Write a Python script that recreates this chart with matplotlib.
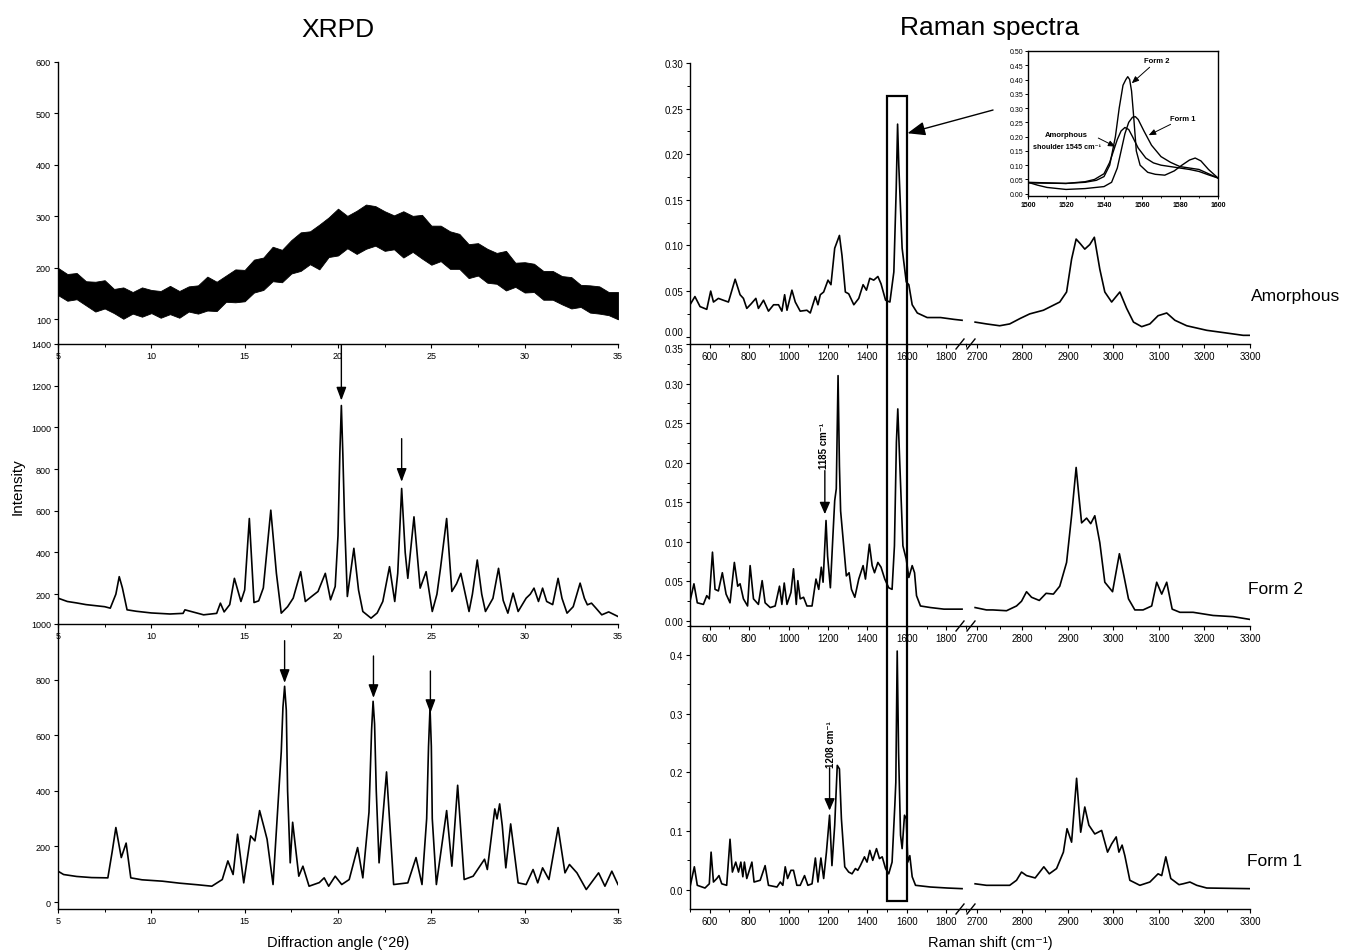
import numpy as np
import matplotlib
matplotlib.use('Agg')
import matplotlib.pyplot as plt
from matplotlib.patches import Rectangle
from matplotlib.lines import Line2D
from matplotlib.ticker import MultipleLocator, FormatStrFormatter

plt.rcParams['font.family'] = ['Liberation Sans', 'DejaVu Sans']

# ---------------- XRPD data ----------------
# Amorphous: noisy band, given as upper / lower envelope
xrpd_amor_x = np.linspace(5, 35, 61)
xrpd_amor_upper = [200, 188, 190, 174, 173, 176, 159, 162, 153, 162, 157, 155, 165, 155, 164, 166, 183, 173, 185, 197,
                   196, 216, 220, 241, 235, 254, 269, 271, 284, 298, 315, 301, 311, 323, 320, 310, 302, 310, 301, 303,
                   282, 282, 271, 266, 246, 248, 237, 229, 233, 210, 211, 208, 194, 194, 184, 182, 167, 166, 164, 153, 153]
xrpd_amor_lower = [147, 136, 139, 127, 115, 121, 112, 101, 111, 105, 112, 103, 110, 103, 115, 111, 117, 116, 134, 133,
                   135, 152, 157, 174, 172, 189, 194, 207, 197, 221, 224, 238, 227, 237, 243, 233, 236, 220, 231, 218,
                   206, 213, 198, 198, 180, 185, 171, 169, 156, 163, 152, 153, 138, 138, 129, 121, 124, 113, 111, 108, 100]

# Form 2
xrpd_f2_x = [5.0, 5.5, 6.0, 6.5, 7.0, 7.5, 7.8, 8.1, 8.28, 8.45, 8.7, 9.2, 10.0, 11.0, 11.7, 11.8, 12.8, 13.5, 13.7, 13.9,
             14.2, 14.45, 14.8, 15.0, 15.25, 15.5, 15.75, 16.0, 16.4, 16.7, 16.96, 17.3, 17.6, 18.0, 18.25, 18.6, 18.93,
             19.32, 19.6, 19.85, 20.0, 20.1, 20.18, 20.26, 20.35, 20.5, 20.85, 21.1, 21.33, 21.77, 22.1, 22.4, 22.76,
             23.04, 23.2, 23.41, 23.6, 23.74, 24.07, 24.4, 24.72, 25.05, 25.3, 25.49, 25.82, 26.1, 26.35, 26.58, 27.02,
             27.2, 27.46, 27.7, 27.9, 28.3, 28.6, 28.85, 29.1, 29.38, 29.65, 30.08, 30.3, 30.5, 30.74, 30.96, 31.18,
             31.5, 31.79, 32.0, 32.27, 32.6, 32.97, 33.2, 33.36, 33.58, 33.8, 34.13, 34.5, 35.0]
xrpd_f2_y = [181, 165, 158, 150, 145, 140, 133, 200, 284, 230, 125, 118, 110, 105, 108, 125, 101, 108, 157, 115,
             150, 276, 165, 220, 563, 160, 168, 230, 603, 300, 109, 140, 181, 308, 165, 190, 213,
             300, 173, 237, 480, 880, 1105, 870, 560, 189, 420, 220, 117, 85, 110, 165, 332,
             165, 300, 707, 400, 276, 571, 229, 308, 117, 200, 324, 563, 213, 250, 300, 117,
             200, 364, 200, 117, 180, 324, 170, 109, 205, 117, 181, 200, 229, 165, 229, 165,
             150, 276, 180, 109, 140, 253, 180, 149, 157, 135, 101, 115, 93]

# Form 1
xrpd_f1_x = [5.0, 5.3, 6.0, 6.8, 7.67, 7.9, 8.1, 8.39, 8.65, 8.9, 9.5, 10.6, 11.5, 12.5, 13.24, 13.8, 14.1, 14.38, 14.62,
             14.95, 15.32, 15.55, 15.8, 16.04, 16.2, 16.52, 16.96, 17.05, 17.14, 17.23, 17.3, 17.44, 17.57, 17.9, 18.12,
             18.45, 19.0, 19.26, 19.5, 19.85, 20.2, 20.6, 21.05, 21.33, 21.66, 21.8, 21.88, 21.96, 22.05, 22.2, 22.6,
             22.98, 23.74, 24.18, 24.5, 24.75, 24.85, 24.93, 25.0, 25.05, 25.27, 25.82, 26.1, 26.41, 26.76, 27.24, 27.85,
             28.0, 28.4, 28.52, 28.66, 28.8, 28.99, 29.25, 29.65, 30.08, 30.45, 30.7, 30.96, 31.3, 31.79, 32.16, 32.4,
             32.8, 33.3, 33.96, 34.3, 34.67, 35.0]
xrpd_f1_y = [111, 99, 92, 88, 87, 180, 268, 160, 212, 87, 80, 75, 68, 62, 57, 81, 148, 99, 244,
             69, 238, 220, 329, 268, 226, 63, 540, 700, 776, 690, 400, 141, 287, 93, 129,
             57, 70, 87, 57, 93, 63, 81, 196, 87, 323, 620, 722, 640, 400, 141, 468,
             63, 69, 160, 63, 300, 560, 698, 560, 300, 63, 329, 129, 420, 81, 93, 154,
             117, 335, 299, 353, 275, 123, 281, 69, 63, 117, 69, 123, 81, 268, 105, 135,
             105, 45, 105, 57, 111, 63]

# ---------------- Raman data ----------------
ram_amor_x1 = [500, 525, 551, 585, 605, 619, 644, 669, 695, 729, 754, 771, 788, 810, 834, 847, 873, 898, 924, 949, 966,
               980, 992, 1017, 1034, 1059, 1093, 1110, 1136, 1149, 1161, 1178, 1200, 1215, 1234, 1258, 1271, 1288,
               1305, 1331, 1356, 1378, 1395, 1412, 1432, 1453, 1469, 1492, 1514, 1534, 1546, 1553, 1559, 1576, 1597,
               1610, 1627, 1653, 1703, 1771, 1839, 1880]
ram_amor_y1 = [0.035, 0.044, 0.033, 0.030, 0.050, 0.038, 0.042, 0.040, 0.038, 0.063, 0.046, 0.042, 0.031, 0.036, 0.042,
               0.031, 0.040, 0.028, 0.035, 0.035, 0.028, 0.046, 0.029, 0.051, 0.038, 0.028, 0.029, 0.026, 0.044, 0.035,
               0.046, 0.049, 0.062, 0.057, 0.097, 0.111, 0.089, 0.049, 0.047, 0.035, 0.042, 0.057, 0.051, 0.064, 0.062,
               0.066, 0.058, 0.040, 0.038, 0.071, 0.162, 0.233, 0.188, 0.097, 0.060, 0.057, 0.035, 0.026, 0.021, 0.021,
               0.019, 0.018]
ram_amor_x2 = [2696, 2721, 2750, 2772, 2795, 2816, 2846, 2882, 2897, 2908, 2918, 2927, 2937, 2948, 2958, 2970, 2981, 2996,
               3014, 3029, 3044, 3062, 3080, 3098, 3117, 3135, 3161, 3205, 3249, 3285, 3300]
ram_amor_y2 = [0.016, 0.014, 0.012, 0.014, 0.020, 0.025, 0.029, 0.038, 0.049, 0.085, 0.107, 0.102, 0.096, 0.101, 0.109,
               0.074, 0.049, 0.038, 0.049, 0.031, 0.016, 0.011, 0.014, 0.023, 0.026, 0.018, 0.012, 0.007, 0.004,
               0.0015, 0.0015]

ram_f2_x1 = [500, 520, 537, 568, 585, 598, 614, 627, 644, 664, 683, 703, 725, 742, 754, 771, 792, 805, 822, 847, 866,
             881, 907, 932, 954, 966, 978, 992, 1012, 1025, 1039, 1047, 1059, 1076, 1093, 1119, 1139, 1153, 1166, 1175,
             1190, 1198, 1212, 1225, 1234, 1242, 1251, 1258, 1264, 1275, 1293, 1307, 1319, 1336, 1356, 1378, 1390,
             1410, 1424, 1436, 1453, 1469, 1488, 1508, 1525, 1537, 1547, 1554, 1564, 1580, 1597, 1610, 1627, 1639,
             1649, 1669, 1720, 1788, 1880]
ram_f2_y1 = [0.025, 0.047, 0.023, 0.021, 0.032, 0.028, 0.087, 0.040, 0.038, 0.061, 0.034, 0.023, 0.074, 0.044, 0.047,
             0.028, 0.019, 0.070, 0.028, 0.021, 0.051, 0.023, 0.017, 0.019, 0.044, 0.021, 0.048, 0.021, 0.036, 0.066,
             0.021, 0.051, 0.028, 0.030, 0.019, 0.019, 0.053, 0.040, 0.068, 0.049, 0.127, 0.082, 0.042, 0.108, 0.152,
             0.167, 0.310, 0.196, 0.139, 0.108, 0.057, 0.061, 0.040, 0.030, 0.053, 0.070, 0.053, 0.097, 0.070, 0.061,
             0.074, 0.068, 0.053, 0.042, 0.040, 0.095, 0.226, 0.268, 0.200, 0.095, 0.078, 0.055, 0.070, 0.061, 0.032,
             0.019, 0.017, 0.015, 0.015]
ram_f2_x2 = [2696, 2721, 2735, 2765, 2787, 2798, 2809, 2820, 2837, 2852, 2868, 2882, 2897, 2908, 2918, 2924, 2930, 2941,
             2950, 2959, 2970, 2981, 2998, 3013, 3023, 3033, 3047, 3065, 3084, 3095, 3106, 3117, 3129, 3146, 3175,
             3219, 3263, 3300]
ram_f2_y2 = [0.017, 0.014, 0.014, 0.013, 0.019, 0.025, 0.037, 0.030, 0.026, 0.035, 0.034, 0.044, 0.074, 0.133, 0.194,
             0.158, 0.124, 0.130, 0.123, 0.133, 0.099, 0.049, 0.037, 0.085, 0.057, 0.028, 0.014, 0.014, 0.019, 0.049,
             0.034, 0.049, 0.015, 0.011, 0.011, 0.007, 0.0055, 0.002]

ram_f1_x1 = [500, 522, 537, 576, 598, 607, 619, 636, 647, 661, 686, 703, 715, 732, 746, 758, 768, 776, 788, 814, 825,
             856, 881, 898, 941, 958, 971, 983, 995, 1012, 1025, 1042, 1059, 1081, 1098, 1119, 1136, 1149, 1164, 1178,
             1192, 1208, 1220, 1234, 1247, 1258, 1268, 1285, 1305, 1322, 1339, 1351, 1364, 1385, 1398, 1412, 1427,
             1446, 1461, 1475, 1492, 1508, 1525, 1539, 1544, 1551, 1558, 1568, 1576, 1588, 1597, 1605, 1615, 1627,
             1644, 1720, 1805, 1880]
ram_f1_y1 = [0.0045, 0.039, 0.0074, 0.0028, 0.010, 0.064, 0.013, 0.019, 0.024, 0.010, 0.0074, 0.086, 0.030, 0.047,
             0.030, 0.047, 0.022, 0.047, 0.019, 0.047, 0.013, 0.016, 0.041, 0.0074, 0.0045, 0.013, 0.0074, 0.039,
             0.019, 0.033, 0.033, 0.0074, 0.0074, 0.024, 0.0074, 0.010, 0.054, 0.013, 0.054, 0.019, 0.064, 0.127,
             0.041, 0.110, 0.212, 0.206, 0.121, 0.039, 0.030, 0.027, 0.036, 0.033, 0.041, 0.056, 0.047, 0.067, 0.050,
             0.070, 0.053, 0.056, 0.036, 0.027, 0.047, 0.144, 0.183, 0.407, 0.234, 0.093, 0.070, 0.127, 0.121, 0.047,
             0.058, 0.022, 0.0074, 0.0045, 0.0028, 0.0017]
ram_f1_x2 = [2696, 2721, 2772, 2787, 2798, 2809, 2828, 2847, 2859, 2875, 2890, 2898, 2908, 2919, 2928, 2937, 2946, 2959,
             2974, 2987, 2996, 3006, 3012, 3019, 3025, 3036, 3058, 3080, 3098, 3106, 3115, 3126, 3144, 3153, 3168,
             3183, 3205, 3300]
ram_f1_y2 = [0.010, 0.0074, 0.0074, 0.016, 0.030, 0.024, 0.020, 0.039, 0.027, 0.036, 0.064, 0.104, 0.081, 0.190, 0.098,
             0.141, 0.110, 0.095, 0.101, 0.064, 0.078, 0.090, 0.064, 0.076, 0.058, 0.016, 0.0074, 0.013, 0.027, 0.024,
             0.056, 0.019, 0.0085, 0.010, 0.013, 0.0074, 0.0028, 0.0017]

# Inset (1500-1600 cm-1)
ins_a_x = [1500, 1510, 1520, 1530, 1536, 1540, 1543, 1546, 1548, 1550, 1551.5, 1552.5, 1553.5, 1554.5, 1555.5, 1557,
           1559, 1563, 1567, 1572, 1577, 1581, 1585, 1588, 1591, 1595, 1600]
ins_a_y = [0.040, 0.038, 0.036, 0.040, 0.047, 0.060, 0.10, 0.20, 0.30, 0.38, 0.40, 0.41, 0.40, 0.36, 0.28, 0.15,
           0.10, 0.075, 0.068, 0.065, 0.08, 0.10, 0.118, 0.125, 0.115, 0.085, 0.055]
ins_b_x = [1500, 1505, 1510, 1520, 1530, 1540, 1544, 1547, 1549, 1551, 1553, 1555, 1556.5, 1558, 1561, 1565, 1570,
           1575, 1580, 1585, 1590, 1595, 1600]
ins_b_y = [0.040, 0.030, 0.022, 0.015, 0.018, 0.025, 0.040, 0.09, 0.15, 0.21, 0.25, 0.268, 0.27, 0.26, 0.22, 0.17,
           0.13, 0.11, 0.095, 0.09, 0.085, 0.07, 0.055]
ins_c_x = [1500, 1510, 1520, 1530, 1535, 1540, 1543, 1545, 1547, 1549, 1551, 1553, 1555, 1558, 1562, 1566, 1570, 1575,
           1580, 1585, 1590, 1595, 1600]
ins_c_y = [0.038, 0.037, 0.036, 0.042, 0.050, 0.070, 0.11, 0.15, 0.19, 0.22, 0.232, 0.225, 0.20, 0.16, 0.125, 0.108,
           0.10, 0.095, 0.09, 0.085, 0.078, 0.066, 0.055]

# ---------------- figure ----------------
W, H = 1346, 953
fig = plt.figure(figsize=(W / 100, H / 100), dpi=100)


def box(x0, y0, x1, y1):
    return [x0 / W, 1 - y1 / H, (x1 - x0) / W, (y1 - y0) / H]


LW = 1.2
SP = 1.0


def style(ax, labelsize):
    for s in ('top', 'right'):
        ax.spines[s].set_visible(False)
    for s in ('left', 'bottom'):
        ax.spines[s].set_linewidth(SP)
    ax.patch.set_alpha(0)
    ax.tick_params(which='major', direction='out', length=3, width=0.8, labelsize=labelsize, pad=2)
    ax.tick_params(which='minor', direction='out', length=2, width=0.7)


def left_ax(y0, y1, ylim, yticks):
    ax = fig.add_axes(box(58, y0, 618, y1))
    style(ax, 6.5)
    ax.set_xlim(5, 35)
    ax.set_ylim(*ylim)
    ax.xaxis.set_major_locator(MultipleLocator(5))
    ax.xaxis.set_minor_locator(MultipleLocator(2.5))
    ax.set_yticks(yticks)
    return ax


axL1 = left_ax(63, 345, (52, 600), [100, 200, 300, 400, 500, 600])
axL2 = left_ax(345, 625, (57, 1400), [200, 400, 600, 800, 1000, 1200, 1400])
axL3 = left_ax(625, 910, (-25, 1000), [0, 200, 400, 600, 800, 1000])

axL1.fill_between(xrpd_amor_x, xrpd_amor_lower, xrpd_amor_upper, color='black', lw=0.6)
axL2.plot(xrpd_f2_x, xrpd_f2_y, color='black', lw=LW)
axL3.plot(xrpd_f1_x, xrpd_f1_y, color='black', lw=LW)

arr = dict(arrowstyle='-|>,head_length=0.8,head_width=0.3', color='black', lw=1.0, shrinkA=0, shrinkB=0,
           mutation_scale=10)
axL2.annotate('', xy=(20.18, 1129), xytext=(20.18, 1395), arrowprops=arr)
axL2.annotate('', xy=(23.41, 739), xytext=(23.41, 946), arrowprops=arr)
axL3.annotate('', xy=(17.14, 788), xytext=(17.14, 940), arrowprops=arr)
axL3.annotate('', xy=(21.9, 734), xytext=(21.9, 885), arrowprops=arr)
axL3.annotate('', xy=(24.95, 680), xytext=(24.95, 831), arrowprops=arr)


def right_row(y0, y1, ylim, major, minor, fmt):
    a1 = fig.add_axes(box(690, y0, 966, y1))
    a2 = fig.add_axes(box(966, y0, 1250, y1))
    for a in (a1, a2):
        style(a, 7)
        a.set_ylim(*ylim)
    a1.set_xlim(500, 1900)
    a2.set_xlim(2676, 3300)
    a1.xaxis.set_minor_locator(MultipleLocator(100))
    a1.set_xticks([600, 800, 1000, 1200, 1400, 1600, 1800])
    a2.set_xticks([2700, 2800, 2900, 3000, 3100, 3200, 3300])
    a2.xaxis.set_minor_locator(MultipleLocator(50))
    a1.yaxis.set_major_locator(MultipleLocator(major))
    a1.yaxis.set_minor_locator(MultipleLocator(minor))
    a1.yaxis.set_major_formatter(FormatStrFormatter(fmt))
    a1.set_ylim(*ylim)
    a2.spines['left'].set_visible(False)
    a2.set_yticks([])
    a2.yaxis.set_minor_locator(matplotlib.ticker.NullLocator())
    return a1, a2


axR1a, axR1b = right_row(64, 345, (-0.008, 0.30), 0.05, 0.025, '%.2f')
axR2a, axR2b = right_row(345, 627, (-0.0063, 0.35), 0.05, 0.025, '%.2f')
axR3a, axR3b = right_row(626, 910, (-0.033, 0.4515), 0.1, 0.05, '%.1f')

# keep "0.00" (top panel) and "0.35" (middle panel) from sitting on each other
for lab in axR1a.get_yticklabels():
    if lab.get_text() == '0.00':
        lab.set_va('bottom')
for lab in axR2a.get_yticklabels():
    if lab.get_text() == '0.35':
        lab.set_va('top')

axR1a.plot(ram_amor_x1, ram_amor_y1, color='black', lw=LW)
axR1b.plot(ram_amor_x2, ram_amor_y2, color='black', lw=LW)
axR2a.plot(ram_f2_x1, ram_f2_y1, color='black', lw=LW)
axR2b.plot(ram_f2_x2, ram_f2_y2, color='black', lw=LW)
axR3a.plot(ram_f1_x1, ram_f1_y1, color='black', lw=LW)
axR3b.plot(ram_f1_x2, ram_f1_y2, color='black', lw=LW)

# peak annotations
arr2 = dict(arrowstyle='-|>,head_length=0.8,head_width=0.35', color='black', lw=1.0, shrinkA=0, shrinkB=0,
            mutation_scale=9)
axR2a.annotate('', xy=(1184, 0.135), xytext=(1184, 0.19), arrowprops=arr2)
axR2a.text(1178, 0.222, '1185 cm⁻¹', rotation=90, ha='center', va='center', fontsize=7, fontweight='bold')
axR3a.annotate('', xy=(1208, 0.135), xytext=(1208, 0.208), arrowprops=arr2)
axR3a.text(1213, 0.249, '1208 cm⁻¹', rotation=90, ha='center', va='center', fontsize=7, fontweight='bold')

# break marks on the broken x axes
inv = fig.transFigure.inverted()
for a in (axR1a, axR2a, axR3a):
    pos = a.get_position()
    xb = pos.x1 * W
    yb = pos.y0 * H
    for dx in (-6, 5):
        fig.add_artist(Line2D([(xb + dx - 4) / W, (xb + dx + 4) / W], [(yb - 5) / H, (yb + 5) / H],
                              transform=fig.transFigure, color='black', lw=1.0))

# tall rectangle marking the 1500-1600 region
p_top = inv.transform(axR1a.transData.transform((1500, 0.264)))
p_bot = inv.transform(axR3a.transData.transform((1600, -0.02)))
fig.add_artist(Rectangle((p_top[0], p_bot[1]), p_bot[0] - p_top[0], p_top[1] - p_bot[1],
                         transform=fig.transFigure, fill=False, lw=1.6, edgecolor='black'))

# inset
ins = fig.add_axes(box(1028, 52, 1218, 197))
ins.set_xlim(1500, 1600)
ins.set_ylim(-0.008, 0.50)
for s in ins.spines.values():
    s.set_linewidth(1.0)
ins.xaxis.set_major_locator(MultipleLocator(20))
ins.xaxis.set_minor_locator(MultipleLocator(10))
ins.yaxis.set_major_locator(MultipleLocator(0.05))
ins.yaxis.set_major_formatter(FormatStrFormatter('%.2f'))
ins.tick_params(which='major', direction='out', length=2, width=0.7, labelsize=5, pad=1.5)
ins.tick_params(which='minor', direction='out', length=1.2, width=0.6)
for lab in ins.get_xticklabels():
    lab.set_fontweight('bold')
ins.plot(ins_a_x, ins_a_y, color='black', lw=1.0)
ins.plot(ins_b_x, ins_b_y, color='black', lw=1.0)
ins.plot(ins_c_x, ins_c_y, color='black', lw=1.0)
arr3 = dict(arrowstyle='-|>,head_length=0.6,head_width=0.25', color='black', lw=0.7, shrinkA=0, shrinkB=0,
            mutation_scale=7)
ins.annotate('Form 2', xy=(1554.6, 0.387), xytext=(1561, 0.465), fontsize=5.5, fontweight='bold',
             ha='left', va='center', arrowprops=arr3)
ins.annotate('Form 1', xy=(1563.5, 0.205), xytext=(1575, 0.265), fontsize=5.5, fontweight='bold',
             ha='left', va='center', arrowprops=arr3)
ins.annotate('', xy=(1546, 0.165), xytext=(1537, 0.195), arrowprops=arr3)
ins.text(1520, 0.207, 'Amorphous', fontsize=5.5, fontweight='bold', ha='center', va='center')
ins.text(1520.5, 0.166, 'shoulder 1545 cm⁻¹', fontsize=5.2, fontweight='bold', ha='center', va='center')

# arrow from inset to the rectangle
axR1a.annotate('', xy=(1603, 0.223), xycoords='data', xytext=(-0.184, 0.593), textcoords=ins.transAxes,
               arrowprops=dict(arrowstyle='-|>,head_length=0.9,head_width=0.35', color='black', lw=1.0,
                               shrinkA=0, shrinkB=0, mutation_scale=12), annotation_clip=False)

# texts
fig.text(338 / W, 1 - 30 / H, 'XRPD', fontsize=19, ha='center', va='center')
fig.text(990 / W, 1 - 28 / H, 'Raman spectra', fontsize=19, ha='center', va='center')
fig.text(18 / W, 1 - 487 / H, 'Intensity', fontsize=11, rotation=90, ha='center', va='center')
fig.text(338 / W, 1 - 943 / H, 'Diffraction angle (°2θ)', fontsize=10.5, ha='center', va='center')
fig.text(990 / W, 1 - 943 / H, 'Raman shift (cm⁻¹)', fontsize=10.5, ha='center', va='center')
fig.text(1251 / W, 1 - 296 / H, 'Amorphous', fontsize=12.5, ha='left', va='center')
fig.text(1248 / W, 1 - 590 / H, 'Form 2', fontsize=12.5, ha='left', va='center')
fig.text(1247 / W, 1 - 862 / H, 'Form 1', fontsize=12.5, ha='left', va='center')

fig.savefig('out.png', dpi=100)
